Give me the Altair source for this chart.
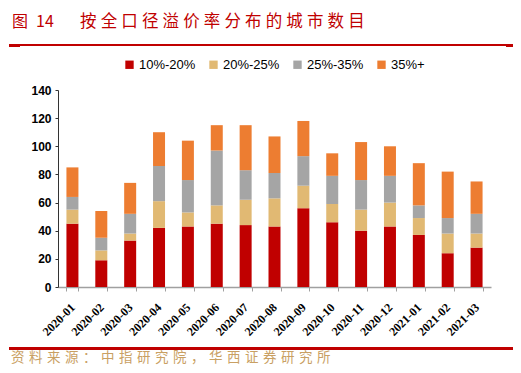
import altair as alt
import pandas as pd

months = ["2020-01", "2020-02", "2020-03", "2020-04", "2020-05", "2020-06", "2020-07",
          "2020-08", "2020-09", "2020-10", "2020-11", "2020-12", "2021-01", "2021-02", "2021-03"]
series = ["10%-20%", "20%-25%", "25%-35%", "35%+"]
s_10_20 = [45, 19, 33, 42, 43, 45, 44, 43, 56, 46, 40, 43, 37, 24, 28]
s_20_25 = [10, 7, 5, 19, 10, 13, 18, 20, 16, 13, 15, 17, 12, 14, 10]
s_25_35 = [9, 9, 14, 25, 23, 39, 21, 18, 21, 20, 21, 19, 9, 11, 14]
s_35_up = [21, 19, 22, 24, 28, 18, 32, 26, 25, 16, 27, 21, 30, 33, 23]
colors = ["#C00000", "#E1B973", "#A5A5A5", "#ED7D31"]

title_num = "图\u200214"
title_text = "\u2005".join("按全口径溢价率分布的城市数目")
source_text = "\u2004".join("资料来源：中指研究院，华西证券研究所")

rows = []
for i, vals in enumerate([s_10_20, s_20_25, s_25_35, s_35_up]):
    for m, v in zip(months, vals):
        rows.append({"month": m, "series": series[i], "idx": i, "value": v})
df = pd.DataFrame(rows)

bars = alt.Chart(df).mark_bar(size=12).encode(
    x=alt.X("month:N", sort=months, title=None,
            scale=alt.Scale(paddingInner=0.58, paddingOuter=0.29),
            axis=alt.Axis(labelAngle=-45, labelFont="Liberation Serif", labelFontWeight="bold",
                          labelFontSize=12, labelColor="#000000", labelAlign="right",
                          labelBaseline="middle", labelPadding=14,
                          tickBand="extent", tickColor="#A0A0A0", tickSize=4,
                          domainColor="#A0A0A0", domainWidth=1.5)),
    y=alt.Y("value:Q", stack="zero", title=None,
            scale=alt.Scale(domain=[0, 140]),
            axis=alt.Axis(values=[0, 20, 40, 60, 80, 100, 120, 140], grid=False,
                          labelFont="Liberation Sans", labelFontWeight="bold",
                          labelFontSize=12, labelColor="#000000", labelPadding=4,
                          tickColor="#333333", tickSize=3, domainColor="#333333")),
    color=alt.Color("series:N", sort=series,
                    scale=alt.Scale(domain=series, range=colors),
                    legend=alt.Legend(title=None, orient="none", direction="horizontal",
                                      legendX=65, legendY=-32, symbolType="square",
                                      symbolSize=70, symbolStrokeWidth=0,
                                      labelFont="Liberation Sans", labelFontSize=13,
                                      labelColor="#000000", columnPadding=11,
                                      labelOffset=3)),
    order=alt.Order("idx:Q", sort="ascending"),
)

deco = pd.DataFrame({"a": [0]})
base = alt.Chart(deco)

t1 = base.mark_text(align="left", baseline="middle", font="Noto Sans CJK SC",
                    fontSize=16, color="#C00000").encode(
    x=alt.value(-46), y=alt.value(-68), text=alt.value(title_num))
t2 = base.mark_text(align="left", baseline="middle", font="Noto Sans CJK SC",
                    fontSize=16.5, color="#C00000").encode(
    x=alt.value(22), y=alt.value(-68), text=alt.value(title_text))
top_line = base.mark_rule(color="#C00000", strokeWidth=2).encode(
    x=alt.value(-49), x2=alt.value(459), y=alt.value(-45))
cap1 = base.mark_rule(color="#C00000", strokeWidth=3).encode(
    x=alt.value(-49), x2=alt.value(-38), y=alt.value(-44.5))
cap2 = base.mark_rule(color="#C00000", strokeWidth=3).encode(
    x=alt.value(448), x2=alt.value(459), y=alt.value(-44.5))
bottom_line = base.mark_rule(color="#C00000", strokeWidth=3).encode(
    x=alt.value(-49), x2=alt.value(459), y=alt.value(258.5))
src = base.mark_text(align="left", baseline="middle", font="Noto Sans CJK SC",
                     fontSize=13.5, color="#C9A063").encode(
    x=alt.value(-47), y=alt.value(267.5), text=alt.value(source_text))

chart = alt.layer(bars, t1, t2, top_line, cap1, cap2, bottom_line, src).properties(
    width=433, height=197,
    autosize=alt.AutoSizeParams(type="none"),
    padding={"left": 50, "top": 82, "right": 22, "bottom": 78},
).configure_view(stroke=None)

chart.save("out.html", embed_options={"renderer": "svg", "actions": False})
